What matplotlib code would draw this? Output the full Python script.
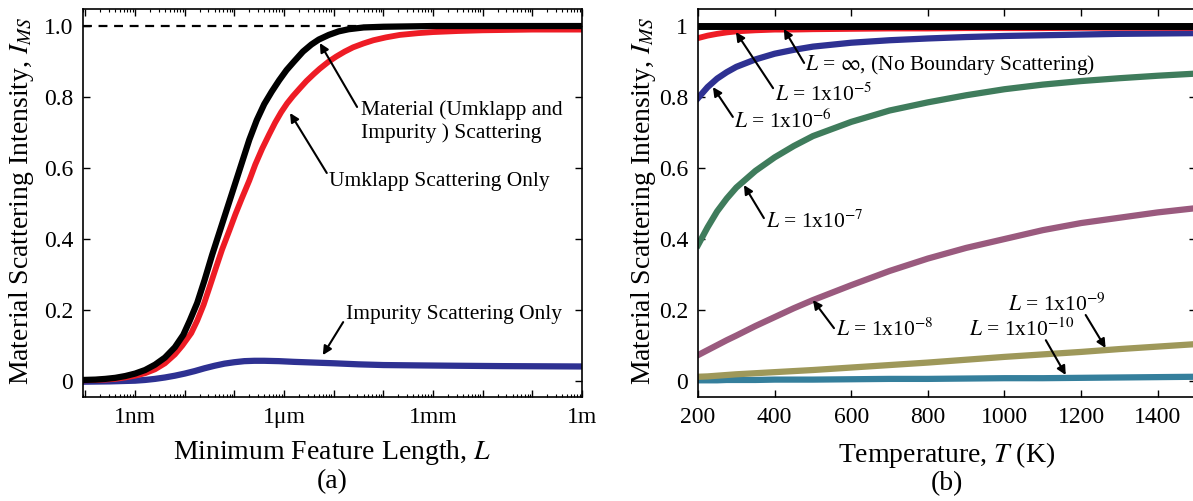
import matplotlib
matplotlib.use("Agg")
import matplotlib.pyplot as plt
from matplotlib.ticker import FixedLocator, LogLocator, NullFormatter, FuncFormatter
import numpy as np

plt.rcParams['font.family'] = ['Liberation Serif', 'DejaVu Serif']
plt.rcParams['mathtext.fontset'] = 'stix'

# ---- panel (a): scattering intensity vs minimum feature length (log10 of L in m)
logL_mat = [-10.05, -9.8, -9.6, -9.4, -9.2, -9.0, -8.8, -8.6, -8.4, -8.2, -8.03, -7.9,
            -7.75, -7.6, -7.45, -7.3, -7.15, -7.0, -6.85, -6.7, -6.55, -6.4, -6.25,
            -6.1, -5.95, -5.8, -5.62, -5.45, -5.3, -5.1, -4.9, -4.7, -4.4, -4.0, -3.5,
            -3.0, 0.0]
I_mat = [0.003, 0.004, 0.006, 0.009, 0.014, 0.021, 0.031, 0.046, 0.066, 0.095, 0.13, 0.17,
         0.22, 0.285, 0.355, 0.42, 0.485, 0.55, 0.615, 0.68, 0.735, 0.78, 0.815,
         0.847, 0.876, 0.90, 0.928, 0.948, 0.962, 0.975, 0.985, 0.991, 0.996, 0.998, 0.999,
         1.0, 1.0]

logL_umk = [-10.05, -9.8, -9.6, -9.4, -9.2, -9.0, -8.8, -8.6, -8.4, -8.2, -8.05, -7.87,
            -7.75, -7.62, -7.5, -7.37, -7.25, -7.1, -6.98, -6.85, -6.7, -6.58, -6.44,
            -6.3, -6.18, -6.06, -5.94, -5.82, -5.68, -5.55, -5.4, -5.28, -5.1, -4.95,
            -4.78, -4.61, -4.4, -4.2, -3.95, -3.67, -3.3, -3.0, -2.5, -2.0, -1.0, 0.0]
I_umk = [0.002, 0.003, 0.004, 0.006, 0.01, 0.015, 0.022, 0.033, 0.05, 0.075, 0.10, 0.135,
         0.17, 0.215, 0.265, 0.32, 0.37, 0.425, 0.47, 0.515, 0.565, 0.61, 0.655,
         0.695, 0.728, 0.757, 0.782, 0.803, 0.825, 0.845, 0.865, 0.88, 0.90, 0.914,
         0.928, 0.94, 0.951, 0.96, 0.968, 0.975, 0.98, 0.983, 0.986, 0.988, 0.99, 0.99]

logL_imp = [-10.05, -9.5, -9.0, -8.8, -8.6, -8.4, -8.2, -8.0, -7.8, -7.6, -7.4, -7.2,
            -7.0, -6.8, -6.6, -6.4, -6.1, -5.8, -5.4, -5.0, -4.5, -4.0, -3.3, -2.5,
            -1.6, 0.0]
I_imp = [-0.002, -0.001, 0.001, 0.003, 0.006, 0.01, 0.015, 0.021, 0.028, 0.036, 0.043, 0.049,
         0.053, 0.056, 0.057, 0.057, 0.056, 0.054, 0.052, 0.05, 0.047, 0.045, 0.044, 0.043,
         0.042, 0.041]

len_ticks = [1e-9, 1e-6, 1e-3, 1.0]
len_labels = ['1nm', '1\u03bcm', '1mm', '1m']

# ---- panel (b): scattering intensity vs temperature for several L
T = [200, 225, 250, 275, 300, 350, 400, 450, 500, 600, 700, 800, 900, 1000, 1100,
     1200, 1300, 1400, 1500]
I_inf = [1.0] * len(T)
I_1e5 = [0.966, 0.973, 0.978, 0.982, 0.985, 0.988, 0.99, 0.99, 0.991, 0.992, 0.993,
         0.993, 0.994, 0.994, 0.994, 0.995, 0.995, 0.995, 0.995]
I_1e6 = [0.797, 0.828, 0.852, 0.870, 0.885, 0.906, 0.922, 0.933, 0.942, 0.953, 0.960,
         0.965, 0.969, 0.972, 0.974, 0.976, 0.978, 0.979, 0.98]
I_1e7 = [0.383, 0.433, 0.478, 0.514, 0.545, 0.592, 0.63, 0.662, 0.69, 0.73, 0.762,
         0.785, 0.805, 0.822, 0.835, 0.845, 0.853, 0.86, 0.866]
I_1e8 = [0.073, 0.087, 0.101, 0.115, 0.128, 0.155, 0.18, 0.205, 0.228, 0.27, 0.31,
         0.345, 0.375, 0.40, 0.425, 0.445, 0.46, 0.475, 0.487]
I_1e9 = [0.012, 0.013, 0.015, 0.017, 0.019, 0.022, 0.025, 0.028, 0.031, 0.038, 0.045,
         0.052, 0.06, 0.068, 0.075, 0.082, 0.09, 0.097, 0.104]
I_1e10 = [0.002, 0.002, 0.002, 0.003, 0.003, 0.003, 0.004, 0.004, 0.004, 0.005, 0.006,
          0.006, 0.007, 0.008, 0.008, 0.009, 0.010, 0.011, 0.012]

fig = plt.figure(figsize=(11.93, 5.01), dpi=100)
axa = fig.add_axes([83 / 1193, 1 - 397 / 501, 499 / 1193, 388 / 501])
axb = fig.add_axes([698 / 1193, 1 - 397 / 501, 498 / 1193, 388 / 501])

tick_fs = 17
lab_fs = 20
ann_fs = 15.5

def style(ax):
    ax.tick_params(which='both', direction='in', top=True, right=True, labelsize=tick_fs, pad=7)
    ax.tick_params(which='major', length=5, width=1)
    ax.tick_params(which='minor', length=2.5, width=0.8)
    for s in ax.spines.values():
        s.set_linewidth(1.2)

def arrow(ax, tail, tip):
    ax.annotate('', xy=tip, xytext=tail,
                arrowprops=dict(arrowstyle='-|>', color='k', lw=1.5, mutation_scale=13,
                                shrinkA=0, shrinkB=0))

# panel (a)
axa.axhline(1.0, color='k', ls=(0, (4, 3)), lw=1.6, zorder=1)
axa.plot(10 ** np.array(logL_imp), I_imp, color='#2e3192', lw=4.5)
axa.plot(10 ** np.array(logL_umk), I_umk, color='#ee1c25', lw=4.2)
axa.plot(10 ** np.array(logL_mat), I_mat, color='k', lw=4.5)
axa.set_xscale('log')
axa.set_xlim(10 ** -10.05, 1.0)
axa.set_ylim(-0.045, 1.048)
lab_map = dict(zip([round(np.log10(t)) for t in len_ticks], len_labels))
axa.xaxis.set_major_locator(FixedLocator([10.0 ** k for k in range(-10, 1)]))
axa.xaxis.set_major_formatter(FuncFormatter(lambda v, p: lab_map.get(round(np.log10(v)), '')))
axa.xaxis.set_minor_locator(LogLocator(base=10, subs=np.arange(2, 10), numticks=20))
axa.xaxis.set_minor_formatter(NullFormatter())
axa.set_yticks([0, 0.2, 0.4, 0.6, 0.8, 1.0], ['0', '0.2', '0.4', '0.6', '0.8', '1.0'])
style(axa)
axa.set_xlabel('Minimum Feature Length, $L$', fontsize=lab_fs)
axa.set_ylabel('Material Scattering Intensity, $I_{MS}$', fontsize=lab_fs)
axa.xaxis.set_label_coords(0.5, -0.106)
axa.yaxis.set_label_coords(-0.094, 0.505)

axa.text(10 ** -4.45, 0.731, 'Material (Umklapp and\nImpurity ) Scattering', fontsize=ann_fs,
         ha='left', va='center', linespacing=1.25)
arrow(axa, (10 ** -4.53, 0.772), (10 ** -5.28, 0.952))
axa.text(10 ** -5.1, 0.563, 'Umklapp Scattering Only', fontsize=ann_fs, ha='left', va='center')
arrow(axa, (10 ** -5.14, 0.586), (10 ** -5.88, 0.755))
axa.text(10 ** -4.75, 0.186, 'Impurity Scattering Only', fontsize=ann_fs, ha='left', va='center')
arrow(axa, (10 ** -4.81, 0.166), (10 ** -5.22, 0.073))

# panel (b)
axb.plot(T, I_1e10, color='#357f9c', lw=4.5)
axb.plot(T, I_1e9, color='#9e985a', lw=4.5)
axb.plot(T, I_1e8, color='#9a5a7e', lw=4.5)
axb.plot(T, I_1e7, color='#3f7c5c', lw=4.5)
axb.plot(T, I_1e6, color='#2e3192', lw=4.5)
axb.plot(T, I_1e5, color='#ee1c25', lw=4.2)
axb.plot(T, I_inf, color='k', lw=5)
axb.set_xlim(200, 1500)
axb.set_ylim(-0.045, 1.048)
axb.set_xticks([200, 400, 600, 800, 1000, 1200, 1400])
axb.set_yticks([0, 0.2, 0.4, 0.6, 0.8, 1.0], ['0', '0.2', '0.4', '0.6', '0.8', '1'])
style(axb)
axb.set_xlabel('Temperature, $T$ (K)', fontsize=lab_fs)
axb.set_ylabel('Material Scattering Intensity, $I_{MS}$', fontsize=lab_fs)
axb.xaxis.set_label_coords(0.5, -0.11)
axb.yaxis.set_label_coords(-0.08, 0.505)

axb.text(480, 0.89, r'$L$ = $\infty$, (No Boundary Scattering)', fontsize=ann_fs, ha='left', va='center')
arrow(axb, (477, 0.896), (424, 0.992))
axb.text(400, 0.806, r'$L$ = 1x10$^{-5}$', fontsize=ann_fs, ha='left', va='center')
arrow(axb, (396, 0.825), (299, 0.983))
axb.text(294, 0.73, r'$L$ = 1x10$^{-6}$', fontsize=ann_fs, ha='left', va='center')
arrow(axb, (291, 0.744), (239, 0.828))
axb.text(377, 0.448, r'$L$ = 1x10$^{-7}$', fontsize=ann_fs, ha='left', va='center')
arrow(axb, (372, 0.459), (320, 0.552))
axb.text(560, 0.144, r'$L$ = 1x10$^{-8}$', fontsize=ann_fs, ha='left', va='center')
arrow(axb, (555, 0.149), (500, 0.228))
axb.text(1009, 0.214, r'$L$ = 1x10$^{-9}$', fontsize=ann_fs, ha='left', va='center')
arrow(axb, (1212, 0.186), (1264, 0.093))
axb.text(907, 0.144, r'$L$ = 1x10$^{-10}$', fontsize=ann_fs, ha='left', va='center')
arrow(axb, (1108, 0.115), (1160, 0.017))

fig.text(332 / 1193, 1 - 482 / 501, '(a)', fontsize=lab_fs, ha='center', va='center')
fig.text(947 / 1193, 1 - 484 / 501, '(b)', fontsize=lab_fs, ha='center', va='center')

fig.savefig('out.png', dpi=100)
